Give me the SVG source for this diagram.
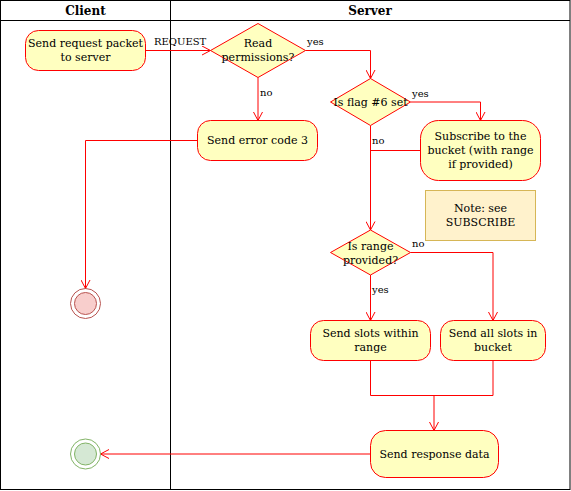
<svg xmlns="http://www.w3.org/2000/svg" width="571" height="491" viewBox="0 0 571 491">
<style>
  .node { fill: #ffffc0; stroke: #ff0000; stroke-width: 1; }
  .t { font-family: "DejaVu Serif", "Liberation Serif", serif; font-size: 11px; fill: #000; text-anchor: middle; dominant-baseline: central; }
  .h { font-family: "DejaVu Serif", "Liberation Serif", serif; font-size: 12px; font-weight: bold; fill: #000; text-anchor: middle; dominant-baseline: central; }
  .lbl { font-family: "DejaVu Serif", "Liberation Serif", serif; font-size: 10px; fill: #000; dominant-baseline: central; }
  .edge { fill: none; stroke: #ff0000; stroke-width: 1; }
  .arr { marker-end: url(#arrow); }
  .lane { fill: none; stroke: #000; stroke-width: 1; }
</style>
<defs>
  <marker id="arrow" viewBox="0 0 10 10" refX="9" refY="5" markerWidth="10" markerHeight="10" markerUnits="userSpaceOnUse" orient="auto">
    <path d="M0.5,0.5 L9,5 L0.5,9.5" fill="none" stroke="#ff0000" stroke-width="1"/>
  </marker>
</defs>
<rect width="571" height="491" fill="#ffffff"/>
<g id="lanes">
  <rect class="lane" x="0.5" y="0.5" width="569.5" height="489"/>
  <line class="lane" x1="0.5" y1="20.5" x2="570" y2="20.5"/>
  <line class="lane" x1="170.5" y1="0.5" x2="170.5" y2="489.5"/>
  <text class="h" x="85.5" y="11">Client</text>
  <text class="h" x="370" y="11">Server</text>
</g>
<g id="connectors">
  <path class="edge arr" d="M145.5,50.5 L210.5,50.5"/>
  <text class="lbl" x="154" y="41.5">REQUEST</text>
  <path class="edge arr" d="M305.5,50.5 L370.5,50.5 L370.5,78.5"/>
  <text class="lbl" x="307" y="41.5">yes</text>
  <path class="edge arr" d="M258,77.5 L258,120.5"/>
  <text class="lbl" x="260" y="92.5">no</text>
  <path class="edge arr" d="M197.5,140.5 L85.5,140.5 L85.5,288.5"/>
  <path class="edge arr" d="M410.5,102 L480.5,102 L480.5,120.5"/>
  <text class="lbl" x="412" y="93">yes</text>
  <path class="edge arr" d="M370.5,125.5 L370.5,230"/>
  <text class="lbl" x="372" y="140.5">no</text>
  <path class="edge" d="M420.5,150.5 L370.5,150.5"/>
  <path class="edge arr" d="M410.5,252.5 L493,252.5 L493,320.5"/>
  <text class="lbl" x="412" y="243.5">no</text>
  <path class="edge arr" d="M370.5,275 L370.5,320.5"/>
  <text class="lbl" x="372" y="289.5">yes</text>
  <path class="edge" d="M370.5,360.5 L370.5,395.5 L493,395.5 L493,360.5"/>
  <path class="edge arr" d="M434,395.5 L434,430.5"/>
  <path class="edge arr" d="M370.5,454 L100.5,454"/>
</g>
<g id="send-request">
  <rect class="node" x="25.5" y="30.5" width="120" height="40" rx="13" ry="13"/>
  <text class="t" x="85.5" y="43.7">Send request packet</text>
  <text class="t" x="85.5" y="57.3">to server</text>
</g>
<g id="read-permissions">
  <polygon class="node" points="258,23.5 305.5,50.5 258,77.5 210.5,50.5"/>
  <text class="t" x="258" y="43.7">Read</text>
  <text class="t" x="258" y="57.3">permissions?</text>
</g>
<g id="send-error">
  <rect class="node" x="197.5" y="120.5" width="120" height="40" rx="13" ry="13"/>
  <text class="t" x="257.5" y="140.5">Send error code 3</text>
</g>
<g id="is-flag">
  <polygon class="node" points="370.5,78.5 410.5,102 370.5,125.5 330.5,102"/>
  <text class="t" x="370.5" y="102">Is flag #6 set</text>
</g>
<g id="subscribe">
  <rect class="node" x="420.5" y="120.5" width="120" height="60" rx="18" ry="18"/>
  <text class="t" x="480.5" y="136.7">Subscribe to the</text>
  <text class="t" x="480.5" y="150.7">bucket (with range</text>
  <text class="t" x="480.5" y="164.7">if provided)</text>
</g>
<g id="note">
  <rect x="425.5" y="190.5" width="110" height="50" fill="#fff2cc" stroke="#d6b656" stroke-width="1"/>
  <text class="t" x="480.5" y="208.7">Note: see</text>
  <text class="t" x="480.5" y="222.7">SUBSCRIBE</text>
</g>
<g id="is-range">
  <polygon class="node" points="370.5,230 410.5,252.5 370.5,275 330.5,252.5"/>
  <text class="t" x="370.5" y="246.7">Is range</text>
  <text class="t" x="370.5" y="260.7">provided?</text>
</g>
<g id="send-slots-range">
  <rect class="node" x="310.5" y="320.5" width="120" height="40" rx="13" ry="13"/>
  <text class="t" x="370.5" y="333.3">Send slots within</text>
  <text class="t" x="370.5" y="347.3">range</text>
</g>
<g id="send-all-slots">
  <rect class="node" x="440.5" y="320.5" width="105" height="40" rx="13" ry="13"/>
  <text class="t" x="493" y="333.3">Send all slots in</text>
  <text class="t" x="493" y="347.3">bucket</text>
</g>
<g id="send-response">
  <rect class="node" x="370.5" y="430.5" width="128" height="47" rx="15" ry="15"/>
  <text class="t" x="434.5" y="454">Send response data</text>
</g>
<g id="end-error">
  <circle cx="85.5" cy="303.5" r="15" fill="none" stroke="#b85450" stroke-width="1"/>
  <circle cx="85.5" cy="303.5" r="11" fill="#f8cecc" stroke="#b85450" stroke-width="1"/>
</g>
<g id="end-success">
  <circle cx="85.5" cy="454" r="15" fill="none" stroke="#82b366" stroke-width="1"/>
  <circle cx="85.5" cy="454" r="11" fill="#d5e8d4" stroke="#82b366" stroke-width="1"/>
</g>
</svg>
